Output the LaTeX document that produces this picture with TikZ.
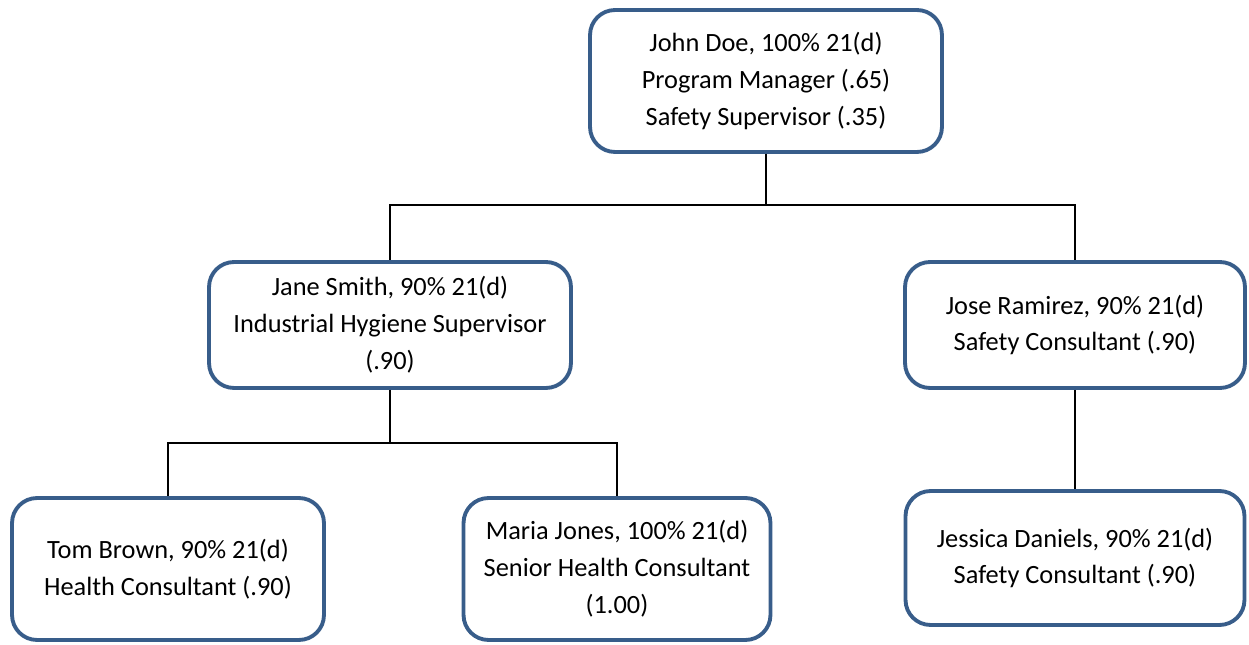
\documentclass[tikz,border=0pt]{standalone}
\usepackage{fontspec}
\setmainfont{Carlito}
\usepackage{xcolor}
\usepackage{tikz}
\usetikzlibrary{positioning}
\definecolor{boxblue}{RGB}{56,93,138}
\tikzstyle{person} = [rectangle, rounded corners=0.5cm, line width=2.2pt, draw=boxblue, fill=white, align=center, text centered, inner sep=2pt, font=\fontsize{15}{21}\selectfont]
\tikzstyle{link} = [line width=1.4pt, draw=black]

\begin{document}
\begin{tikzpicture}[x=0.02cm, y=-0.02cm]

	\useasboundingbox (0,0) rectangle (1249,645);

	\node (john) [person, minimum width=7.04cm, minimum height=2.84cm] at (766,81) {John Doe, 100\% 21(d)\\Program Manager (.65)\\Safety Supervisor (.35)};
	\node (jane) [person, minimum width=7.24cm, minimum height=2.52cm] at (390,325) {Jane Smith, 90\% 21(d)\\Industrial Hygiene Supervisor\\(.90)};
	\node (jose) [person, minimum width=6.8cm, minimum height=2.52cm] at (1075,325) {Jose Ramirez, 90\% 21(d)\\Safety Consultant (.90)};
	\node (tom) [person, minimum width=6.24cm, minimum height=2.84cm] at (168,569) {Tom Brown, 90\% 21(d)\\Health Consultant (.90)};
	\node (maria) [person, minimum width=6.14cm, minimum height=2.84cm] at (617,569) {Maria Jones, 100\% 21(d)\\Senior Health Consultant\\(1.00)};
	\node (jessica) [person, minimum width=6.78cm, minimum height=2.68cm] at (1075,558) {Jessica Daniels, 90\% 21(d)\\Safety Consultant (.90)};

	\draw [link] (john.south) -- ++(0,51) -| (jane.north);
	\draw [link] (john.south) -- ++(0,51) -| (jose.north);
	\draw [link] (jane.south) -- ++(0,53) -| (tom.north);
	\draw [link] (jane.south) -- ++(0,53) -| (maria.north);
	\draw [link] (jose.south) -- (jessica.north);

\end{tikzpicture}
\end{document}
